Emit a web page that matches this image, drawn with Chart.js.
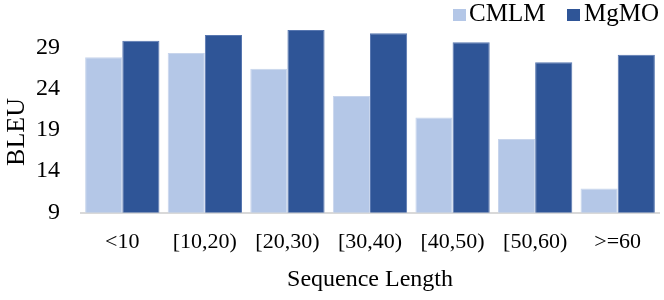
<!DOCTYPE html>
<html>
<head>
<meta charset="utf-8">
<script src="https://cdn.jsdelivr.net/npm/chart.js@4.4.1/dist/chart.umd.min.js"></script>
<style>
  body { margin: 0; background: #fff; }
  #wrap { width: 664px; height: 300px; }
</style>
</head>
<body>
<div id="wrap"><canvas id="chartStuff" width="664" height="300"></canvas></div>
<script>
// data
var lengths = ["<10", "[10,20)", "[20,30)", "[30,40)", "[40,50)", "[50,60)", ">=60"];
var cmlm = [27.8, 28.3, 26.4, 23.1, 20.5, 17.9, 11.9];
var mgmo = [29.8, 30.5, 31.1, 30.7, 29.6, 27.2, 28.1];
var yTicks = [9, 14, 19, 24, 29];
var yTitle = "BLEU";

var serif = "'Liberation Serif', 'Times New Roman', serif";

// legend in the top right corner and the y title, placed like the original
var extraText = {
  id: "extraText",
  afterDraw: function(chart) {
    var c = chart.ctx;
    var spots = [{ box: 453, text: 469 }, { box: 567, text: 584 }];
    c.save();
    c.font = "25px " + serif;
    c.textBaseline = "alphabetic";
    c.textAlign = "left";
    chart.data.datasets.forEach(function(ds, i) {
      c.fillStyle = ds.backgroundColor;
      c.fillRect(spots[i].box, 9, 13, 12);
      c.fillStyle = "#000";
      c.fillText(ds.label, spots[i].text, 21);
    });
    // y title sits a bit lower than the middle of the plot
    c.translate(17, 132);
    c.rotate(-Math.PI / 2);
    c.font = "26px " + serif;
    c.textAlign = "center";
    c.textBaseline = "middle";
    c.fillText(yTitle, 0, 0);
    c.restore();
  }
};

var ctx = document.getElementById('chartStuff').getContext('2d');
var myChart = new Chart(ctx, {
  type: "bar",
  data: {
    labels: lengths,
    datasets: [{
      label: "CMLM",
      data: cmlm,
      backgroundColor: "#b4c7e7",
      borderColor: "#c8d5ec",
      borderWidth: 1
    }, {
      label: "MgMO",
      data: mgmo,
      backgroundColor: "#2f5597",
      borderColor: "#5877b0",
      borderWidth: 1
    }]
  },
  options: {
    responsive: false,
    animation: false,
    layout: { padding: { top: 6, right: 5, left: 0, bottom: 0 } },
    datasets: {
      bar: { barPercentage: 1.0, categoryPercentage: 0.9 }
    },
    plugins: {
      tooltip: { enabled: false },
      legend: { display: false }
    },
    scales: {
      x: {
        grid: { display: false, drawTicks: false },
        border: { display: true, color: "#d9d9d9", width: 2 },
        afterFit: function(scale) { scale.height = 87.5; },
        ticks: { color: "#000", font: { family: serif, size: 22 }, padding: 17, maxRotation: 0, autoSkip: false },
        title: { display: true, text: "Sequence Length", color: "#000", font: { family: serif, size: 24 }, padding: { top: 0, bottom: 6 } }
      },
      y: {
        min: 9,
        max: 34,
        grid: { display: false, drawTicks: false },
        border: { display: false },
        afterFit: function(scale) {
          scale.width = 81;
          // no extra room above/below for the tick labels
          scale.paddingTop = 0;
          scale.paddingBottom = 0;
        },
        afterBuildTicks: function(scale) {
          scale.ticks = yTicks.map(function(v) { return { value: v }; });
        },
        ticks: { color: "#000", font: { family: serif, size: 24 }, padding: 21 }
      }
    }
  },
  plugins: [extraText]
});
</script>
</body>
</html>
